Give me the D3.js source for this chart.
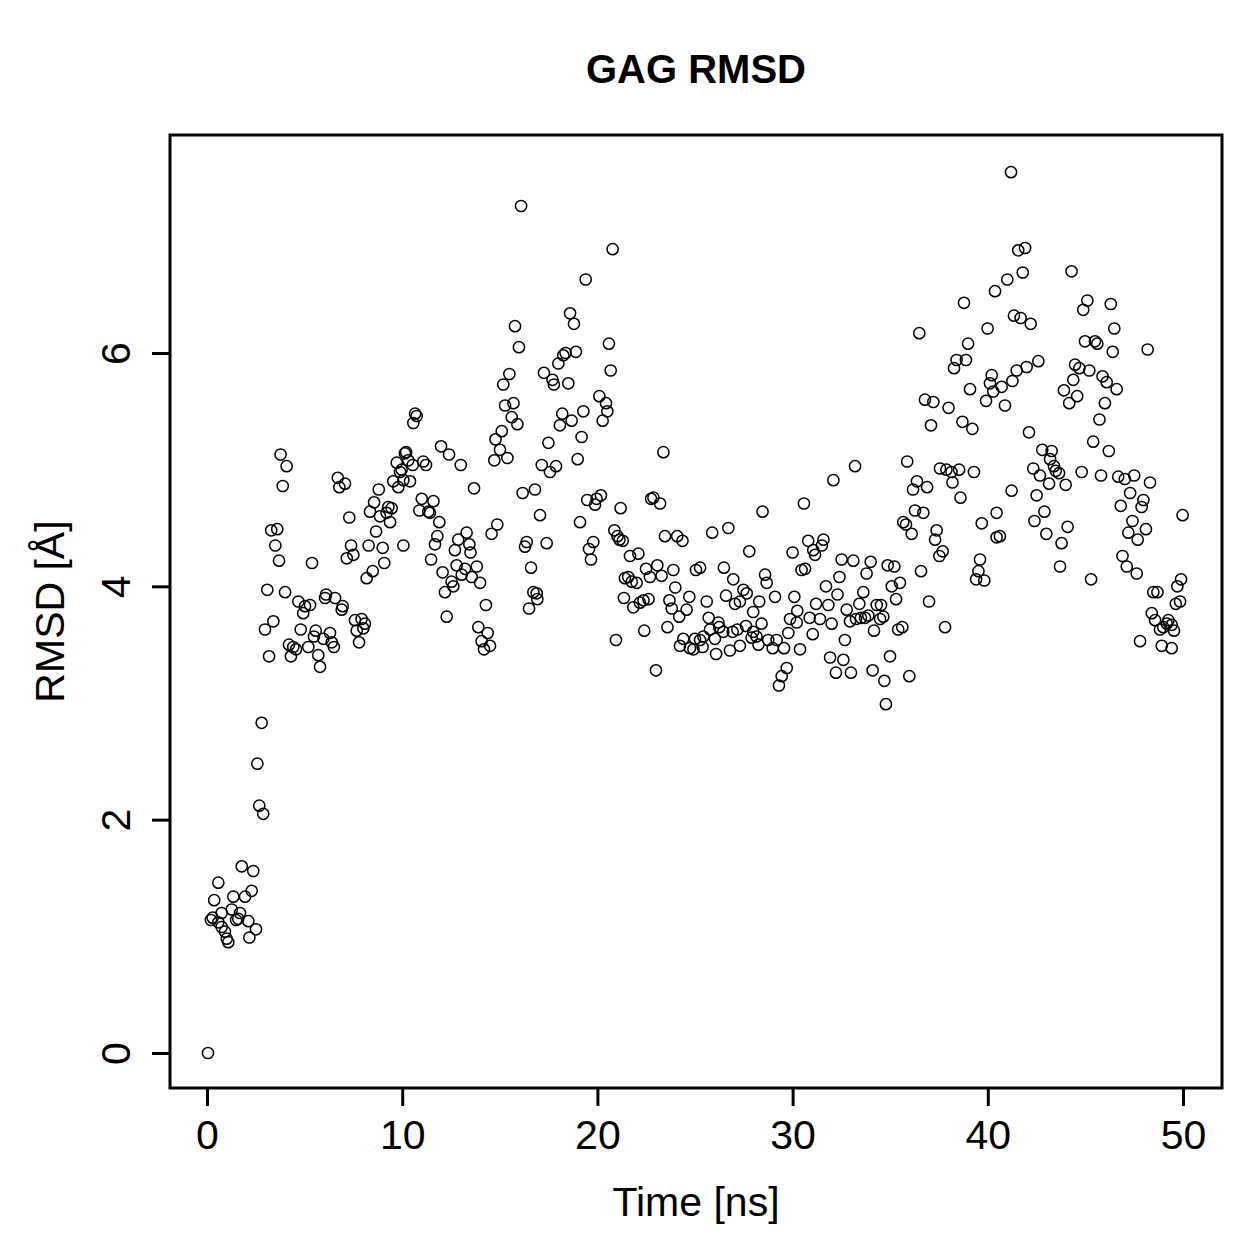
<!DOCTYPE html>
<html>
<head>
<meta charset="utf-8">
<script src="https://cdn.jsdelivr.net/npm/d3@7"></script>
<style>
  body { margin: 0; background: white; }
  text { font-family: "Liberation Sans", Arial, Helvetica, sans-serif; fill: black; }
</style>
</head>
<body>
<div id="vis"></div>
<script>
// GAG RMSD scatter: [time ns, rmsd A]
let seg0to5 = [[0.05,0.00],[0.20,1.14],[0.29,1.16],[0.37,1.31],[0.58,1.46],[0.58,1.12],[0.75,1.20],[0.75,1.08],[0.92,1.04],[1.01,0.98],[1.09,0.95],[1.27,1.23],[1.35,1.34],[1.49,1.14],[1.60,1.15],[1.69,1.20],[1.78,1.60],[1.95,1.34],[2.12,1.13],[2.17,0.99],[2.29,1.39],[2.37,1.56],[2.51,1.06],[2.58,2.48],[2.68,2.12],[2.80,2.83],[2.88,2.05],[2.97,3.63],[3.09,3.97],[3.18,3.40],[3.29,4.48],[3.40,3.70],[3.50,4.35],[3.60,4.49],[3.69,4.22],[3.77,5.13],[3.88,4.86],[4.00,3.95],[4.08,5.03],[4.20,3.50],[4.30,3.40],[4.42,3.48],[4.56,3.46],[4.68,3.87],[4.80,3.63],[4.93,3.77]]

let seg5to10 = [[5.02,3.83],[5.19,3.48],[5.28,3.84],[5.38,4.20],[5.48,3.57],[5.57,3.62],[5.70,3.41],[5.79,3.31],[5.96,3.55],[6.05,3.90],[6.10,3.93],[6.30,3.60],[6.39,3.52],[6.50,3.48],[6.56,3.90],[6.70,4.93],[6.78,4.85],[6.90,3.80],[6.95,3.83],[7.07,4.88],[7.16,4.24],[7.29,4.59],[7.38,4.35],[7.50,4.27],[7.58,3.71],[7.67,3.62],[7.79,3.52],[7.92,3.72],[8.01,3.64],[8.09,3.68],[8.18,4.07],[8.28,4.35],[8.35,4.64],[8.49,4.13],[8.56,4.72],[8.66,4.47],[8.80,4.83],[8.86,4.60],[9.00,4.33],[9.08,4.20],[9.20,4.63],[9.29,4.68],[9.38,4.55],[9.46,4.67],[9.54,4.90],[9.72,5.06],[9.80,4.85],[9.89,4.98],[9.97,5.00]]

let seg10to20 = [[10.06,4.35],[10.06,4.91],[10.14,5.14],[10.20,5.15],[10.31,5.08],[10.40,4.90],[10.54,5.04],[10.57,5.40],[10.66,5.48],[10.74,5.46],[10.88,4.65],[11.00,4.75],[11.08,5.07],[11.22,5.04],[11.34,4.64],[11.42,4.63],[11.48,4.23],[11.60,4.73],[11.68,4.36],[11.80,4.43],[11.90,4.55],[11.99,5.20],[12.07,4.12],[12.19,3.95],[12.28,3.74],[12.40,5.13],[12.53,4.04],[12.62,4.00],[12.70,4.31],[12.79,4.18],[12.87,4.40],[13.00,5.04],[13.05,4.10],[13.22,4.15],[13.30,4.46],[13.44,4.36],[13.50,4.29],[13.56,4.08],[13.68,4.84],[13.82,4.17],[13.90,3.65],[13.99,4.03],[14.07,3.53],[14.19,3.46],[14.29,3.84],[14.38,3.60],[14.50,3.49],[14.58,4.45],[14.72,5.08],[14.78,5.26],[14.87,4.53],[15.01,5.17],[15.10,5.33],[15.18,5.73],[15.27,5.55],[15.39,5.10],[15.49,5.82],[15.61,5.45],[15.70,5.57],[15.78,6.23],[15.90,5.39],[15.98,6.05],[16.09,7.26],[16.17,4.80],[16.29,4.34],[16.38,4.38],[16.50,3.81],[16.60,4.16],[16.72,3.95],[16.80,4.83],[16.89,3.94],[16.92,3.89],[17.06,4.61],[17.15,5.04],[17.26,5.83],[17.40,4.37],[17.49,5.23],[17.57,4.98],[17.70,5.77],[17.77,5.73],[17.88,5.03],[18.00,5.91],[18.08,5.38],[18.20,5.48],[18.25,5.98],[18.37,6.00],[18.51,5.74],[18.60,6.34],[18.68,5.42],[18.80,6.25],[18.90,6.01],[18.99,5.09],[19.11,4.55],[19.19,5.28],[19.28,5.50],[19.40,6.63],[19.48,4.74],[19.57,4.32],[19.67,4.23],[19.79,4.38],[19.88,4.70],[19.96,4.75]]

let seg20to30 = [[20.10,5.63],[20.18,4.78],[20.27,5.42],[20.44,5.57],[20.51,5.50],[20.59,6.08],[20.68,5.85],[20.78,6.89],[20.87,4.48],[20.95,3.54],[21.03,4.43],[21.13,4.40],[21.19,4.67],[21.30,4.39],[21.36,3.90],[21.41,4.07],[21.58,4.08],[21.67,4.26],[21.76,4.04],[21.84,3.82],[22.01,4.03],[22.10,4.28],[22.18,3.86],[22.36,3.88],[22.40,3.62],[22.49,4.15],[22.62,3.89],[22.69,4.08],[22.75,4.75],[22.87,4.76],[23.00,3.28],[23.07,4.18],[23.21,4.71],[23.29,4.09],[23.38,5.15],[23.46,4.43],[23.59,3.65],[23.69,3.88],[23.81,3.81],[23.89,4.14],[23.99,3.99],[24.09,4.43],[24.19,3.74],[24.23,3.49],[24.36,4.39],[24.40,3.55],[24.57,3.80],[24.71,3.91],[24.74,3.47],[24.92,3.46],[25.00,3.55],[25.05,4.14],[25.26,4.16],[25.26,3.54],[25.39,3.48],[25.43,3.57],[25.60,3.87],[25.70,3.73],[25.77,3.63],[25.88,4.46],[26.02,3.55],[26.08,3.42],[26.20,3.69],[26.24,3.65],[26.45,3.61],[26.48,4.16],[26.59,3.92],[26.71,4.50],[26.79,3.45],[26.93,3.61],[26.96,4.06],[27.05,3.85],[27.17,3.63],[27.30,3.87],[27.30,3.49],[27.48,3.97],[27.61,3.66],[27.65,3.94],[27.78,4.30],[27.90,3.56],[27.98,3.78],[27.98,3.61],[28.15,3.57],[28.25,3.50],[28.29,3.87],[28.41,3.68],[28.46,4.64],[28.59,4.10],[28.67,4.03],[28.75,3.54],[28.98,3.47],[29.10,3.91],[29.18,3.54],[29.30,3.15],[29.44,3.23],[29.56,3.47],[29.70,3.30],[29.78,3.60],[29.87,3.72]]

let seg30to40 = [[30.00,4.29],[30.09,3.91],[30.21,3.69],[30.24,3.79],[30.38,3.46],[30.46,4.14],[30.58,4.71],[30.64,4.15],[30.80,4.39],[30.87,3.73],[31.03,3.59],[31.06,4.31],[31.15,4.27],[31.20,3.85],[31.40,3.72],[31.50,4.35],[31.58,4.40],[31.71,4.00],[31.83,3.84],[31.92,3.39],[32.00,3.68],[32.09,4.91],[32.22,3.26],[32.30,3.93],[32.40,4.08],[32.51,4.23],[32.60,3.37],[32.68,3.54],[32.77,3.80],[32.94,3.70],[32.99,3.26],[33.11,4.22],[33.20,5.03],[33.25,3.72],[33.42,3.85],[33.50,3.73],[33.62,3.95],[33.71,3.73],[33.79,4.11],[33.88,3.75],[34.00,4.21],[34.10,3.28],[34.17,3.62],[34.31,3.84],[34.48,3.72],[34.53,3.84],[34.65,3.74],[34.70,3.19],[34.78,2.99],[34.87,4.18],[34.99,3.40],[35.08,4.00],[35.21,4.17],[35.30,3.89],[35.41,3.63],[35.50,4.03],[35.62,3.65],[35.67,4.55],[35.81,4.53],[35.87,5.07],[35.98,3.23],[36.10,4.45],[36.17,4.83],[36.27,4.65],[36.37,4.90],[36.49,6.17],[36.58,4.13],[36.70,4.63],[36.78,5.60],[36.89,4.85],[36.99,3.87],[37.09,5.38],[37.21,5.58],[37.30,4.40],[37.38,4.48],[37.52,4.26],[37.55,5.01],[37.69,4.30],[37.81,3.65],[37.88,5.00],[37.99,5.53],[38.14,4.98],[38.19,4.89],[38.27,5.87],[38.40,5.94],[38.53,5.00],[38.60,4.76],[38.70,5.41],[38.78,6.43],[38.88,5.94],[38.99,6.08],[39.09,5.69],[39.21,5.35],[39.29,4.98],[39.40,4.06],[39.52,4.13],[39.60,4.23],[39.69,4.54],[39.82,4.05],[39.91,5.59],[39.99,6.21]]

let seg40to50 = [[40.11,5.74],[40.20,5.81],[40.28,5.67],[40.37,6.53],[40.45,4.63],[40.45,4.42],[40.62,4.43],[40.71,5.71],[40.88,5.55],[41.00,6.63],[41.19,7.55],[41.22,4.82],[41.26,5.76],[41.34,6.32],[41.48,5.85],[41.56,6.88],[41.68,6.30],[41.79,6.69],[41.91,6.90],[41.99,5.88],[42.11,5.32],[42.20,6.25],[42.33,5.01],[42.39,4.56],[42.50,4.78],[42.59,5.93],[42.67,4.95],[42.79,5.17],[42.90,4.64],[43.00,4.45],[43.14,4.88],[43.19,5.09],[43.27,5.16],[43.39,5.03],[43.48,4.99],[43.65,4.97],[43.70,4.17],[43.78,4.37],[43.90,5.68],[43.99,4.87],[44.09,4.51],[44.17,5.57],[44.29,6.70],[44.38,5.77],[44.47,5.90],[44.58,5.63],[44.69,5.87],[44.81,4.98],[44.89,6.37],[44.98,6.10],[45.10,6.45],[45.20,5.85],[45.29,4.06],[45.40,5.24],[45.49,6.10],[45.61,6.08],[45.72,5.43],[45.80,4.95],[45.88,5.80],[46.00,5.57],[46.09,5.75],[46.20,5.16],[46.30,6.42],[46.40,6.01],[46.48,6.21],[46.60,5.69],[46.68,4.94],[46.81,4.69],[46.90,4.26],[47.02,4.92],[47.12,4.17],[47.20,4.46],[47.29,4.80],[47.41,4.56],[47.50,4.95],[47.63,4.11],[47.68,4.40],[47.80,3.53],[47.88,4.68],[47.97,4.74],[48.10,4.49],[48.19,6.03],[48.31,4.89],[48.40,3.77],[48.48,3.95],[48.57,3.71],[48.69,3.95],[48.82,3.63],[48.91,3.49],[48.99,3.65],[49.17,3.68],[49.25,3.71],[49.42,3.67],[49.42,3.47],[49.54,3.62],[49.63,3.85],[49.71,4.00],[49.85,3.87],[49.90,4.06],[49.98,4.61]]

let xTicks = [0, 10, 20, 30, 40, 50]
let yTicks = [0, 2, 4, 6]

let points = [].concat(seg0to5, seg5to10, seg10to20, seg20to30, seg30to40, seg40to50)

let W = 1259, H = 1259
let box = { left: 170, right: 1222, top: 135, bottom: 1088 }

let svg = d3.select('#vis')
  .append('svg')
  .attr('width', W)
  .attr('height', H)
  .style('background-color', 'white')

// R style extended ranges: 0..50 and 0..6 mapped where the ticks sit
let x = d3.scaleLinear().domain([0, 50]).range([207, 1183])
let y = d3.scaleLinear().domain([0, 6]).range([1053, 353])

// title
svg.append('text')
  .attr('x', (box.left + box.right) / 2)
  .attr('y', 83)
  .attr('text-anchor', 'middle')
  .style('font-size', '40px')
  .style('font-weight', 'bold')
  .text('GAG RMSD')

// points
svg.append('g')
  .selectAll('circle')
  .data(points)
  .join('circle')
  .attr('cx', d => x(d[0]))
  .attr('cy', d => y(d[1]))
  .attr('r', 5.6)
  .attr('fill', 'none')
  .attr('stroke', 'black')
  .attr('stroke-width', 1.5)

// frame
svg.append('rect')
  .attr('x', box.left)
  .attr('y', box.top)
  .attr('width', box.right - box.left)
  .attr('height', box.bottom - box.top)
  .attr('fill', 'none')
  .attr('stroke', 'black')
  .attr('stroke-width', 3)

// x axis
let gx = svg.append('g')
  .attr('transform', `translate(0,${box.bottom})`)
  .call(d3.axisBottom(x).tickValues(xTicks).tickSize(18).tickPadding(14).tickFormat(d3.format('d')))
gx.select('.domain').remove()
gx.selectAll('line').attr('stroke-width', 3)
gx.selectAll('text').style('font-size', '41px').attr('font-family', null)

// y axis, labels turned like R's default las=0
let gy = svg.append('g')
  .attr('transform', `translate(${box.left},0)`)
  .call(d3.axisLeft(y).tickValues(yTicks).tickSize(18).tickFormat(d3.format('d')))
gy.select('.domain').remove()
gy.selectAll('line').attr('stroke-width', 3)
gy.selectAll('text')
  .style('font-size', '41px')
  .attr('font-family', null)
  .attr('x', 0)
  .attr('dy', 0)
  .attr('text-anchor', 'middle')
  .attr('transform', 'translate(-40,0) rotate(-90)')

// axis titles
svg.append('text')
  .attr('x', (box.left + box.right) / 2)
  .attr('y', 1216)
  .attr('text-anchor', 'middle')
  .style('font-size', '41px')
  .text('Time [ns]')

svg.append('text')
  .attr('transform', `translate(64,${(box.top + box.bottom) / 2}) rotate(-90)`)
  .attr('text-anchor', 'middle')
  .style('font-size', '41px')
  .text('RMSD [Å]')
</script>
</body>
</html>
